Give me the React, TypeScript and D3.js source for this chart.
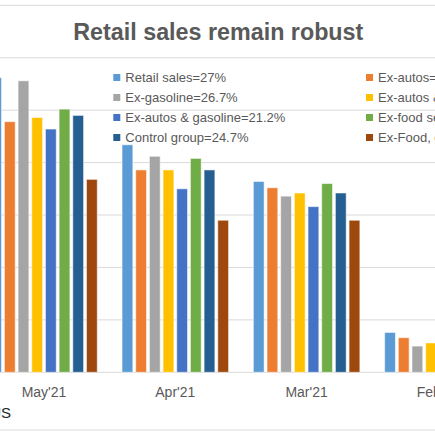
import * as d3 from "d3";

const months = ["May'21", "Apr'21", "Mar'21", "Feb'21"];

const seriesNames = [
  "Retail sales",
  "Ex-autos",
  "Ex-gasoline",
  "Ex-autos & gas stations",
  "Ex-autos & gasoline",
  "Ex-food services",
  "Control group",
  "Ex-Food, gas, autos & building materials",
];

const legendLabels = [
  "Retail sales=27%",
  "Ex-autos=22.9%",
  "Ex-gasoline=26.7%",
  "Ex-autos & gas stations=22.3%",
  "Ex-autos & gasoline=21.2%",
  "Ex-food services=24.1%",
  "Control group=24.7%",
  "Ex-Food, gas, autos & building materials=17.6%",
];

const seriesColors = ["#5B9BD5", "#ED7D31", "#A5A5A5", "#FFC000", "#4472C4", "#70AD47", "#255E91", "#9E480E"];

// one array per month, in series order
const may21 = [28.1, 23.9, 27.8, 24.3, 23.2, 25.1, 24.5, 18.4];
const apr21 = [21.7, 19.3, 20.6, 19.3, 17.5, 20.4, 19.3, 14.5];
const mar21 = [18.2, 17.6, 16.8, 17.1, 15.8, 18.0, 17.1, 14.5];
const feb21 = [3.8, 3.3, 2.5, 2.8, 2.3, 3.4, 2.9, 2.6];
const monthValues = [may21, apr21, mar21, feb21];

const yTicks = [0, 5, 10, 15, 20, 25, 30, 35];

const W = 435;
const H = 435;

export default function App() {
  const y = d3.scaleLinear().domain([0, 35]).range([372.3, 5.3]);
  const x0 = d3.scaleBand<string>().domain(months).range([-21.65, -21.65 + 131.3 * 4]);
  const x1 = d3
    .scaleBand<string>()
    .domain(seriesNames)
    .range([0, 109.4])
    .paddingInner(0.21)
    .paddingOuter(0.105);
  const groupOffset = (x0.bandwidth() - 109.4) / 2;

  return (
    <svg
      width={W}
      height={H}
      style={{ position: "fixed", left: 0, top: 0, background: "#fff" }}
      fontFamily="'Liberation Sans', Arial, sans-serif"
    >
      {yTicks.map((t) => (
        <line key={t} x1={0} x2={W} y1={y(t)} y2={y(t)} stroke="#d9d9d9" strokeWidth={1} />
      ))}
      <line x1={0} x2={W} y1={430} y2={430} stroke="#d9d9d9" strokeWidth={1.2} />

      {months.map((m, i) => (
        <g key={m} transform={`translate(${(x0(m) ?? 0) + groupOffset},0)`}>
          {monthValues[i].map((v, j) => (
            <rect
              key={seriesNames[j]}
              x={x1(seriesNames[j])}
              y={y(v)}
              width={x1.bandwidth()}
              height={y(0) - y(v)}
              fill={seriesColors[j]}
              stroke="#ffffff"
              strokeOpacity={0.55}
              strokeWidth={1}
            />
          ))}
        </g>
      ))}

      {months.map((m) => (
        <text
          key={m}
          x={(x0(m) ?? 0) + x0.bandwidth() / 2}
          y={397.3}
          textAnchor="middle"
          fontSize={14}
          fill="#595959"
        >
          {m}
        </text>
      ))}

      <text x={218.3} y={40} textAnchor="middle" fontSize={23.3} fontWeight="bold" fill="#595959">
        Retail sales remain robust
      </text>

      {legendLabels.map((label, i) => {
        const col = i % 2;
        const row = Math.floor(i / 2);
        const lx = col === 0 ? 113.3 : 366;
        const baseY = 82 + row * 20;
        return (
          <g key={label}>
            <rect x={lx} y={baseY - 8} width={7} height={7} fill={seriesColors[i]} />
            <text x={lx + 12} y={baseY} fontSize={13} fill="#595959">
              {label}
            </text>
          </g>
        );
      })}

      <text x={11} y={418} textAnchor="end" fontSize={15} fill="#262626">
        US
      </text>
    </svg>
  );
}
